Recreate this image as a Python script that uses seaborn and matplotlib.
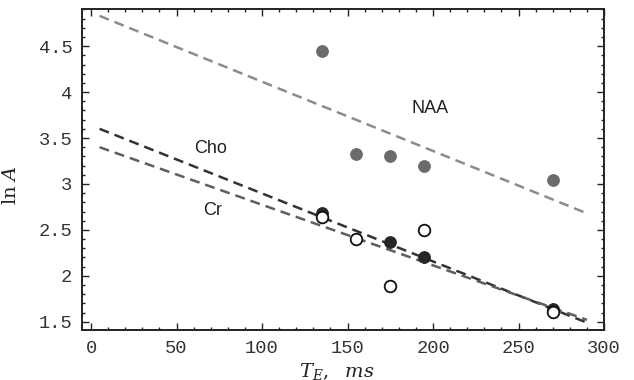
import matplotlib
matplotlib.use("Agg")
import matplotlib.pyplot as plt
import matplotlib.ticker as mticker
import seaborn as sns

# ── data ────────────────────────────────────────────────────────────────────
te_naa = [135, 155, 175, 195, 270]
lna_naa = [4.45, 3.33, 3.30, 3.19, 3.04]

te_cho = [135, 175, 195, 270]
lna_cho = [2.68, 2.37, 2.20, 1.64]

te_cr = [135, 155, 175, 195, 270]
lna_cr = [2.64, 2.40, 1.89, 2.50, 1.61]

# fitted lines (end points)
te_fit = [5, 290]
fit_naa = [4.83, 2.68]
fit_cho = [3.60, 1.49]
fit_cr = [3.40, 1.52]

x_ticks = [0, 50, 100, 150, 200, 250, 300]
y_ticks = [1.5, 2, 2.5, 3, 3.5, 4, 4.5]

sns.set_style("ticks")
plt.rcParams["mathtext.fontset"] = "dejavuserif"

fig = plt.figure(figsize=(6.34, 3.8), dpi=100)
ax = fig.add_axes([0.1293, 0.1316, 0.8234, 0.846])

dash = (4.0, 2.4)
sns.lineplot(x=te_fit, y=fit_naa, ax=ax, color="#8c8c8c", lw=1.8)
sns.lineplot(x=te_fit, y=fit_cho, ax=ax, color="#333333", lw=1.8)
sns.lineplot(x=te_fit, y=fit_cr, ax=ax, color="#5e5e5e", lw=1.8)
for ln in ax.lines:
    ln.set_dashes(dash)

sns.scatterplot(x=te_naa, y=lna_naa, ax=ax, color="#6b6b6b", s=70,
                edgecolor="#6b6b6b", linewidth=0.8, zorder=5)
sns.scatterplot(x=te_cho, y=lna_cho, ax=ax, color="#262626", s=70,
                edgecolor="#262626", linewidth=0.8, zorder=5)
sns.scatterplot(x=te_cr, y=lna_cr, ax=ax, color="white", s=70,
                edgecolor="#111111", linewidth=1.3, zorder=6)

# curve labels
lab_font = dict(family="Liberation Sans", fontsize=13, color="#222222",
                ha="center", va="center")
ax.text(198, 3.82, "NAA", **lab_font)
ax.text(70, 3.39, "Cho", **lab_font)
ax.text(71, 2.71, "Cr", **lab_font)

ax.set_xlim(-5.3, 300)
ax.set_ylim(1.41, 4.91)

ax.set_xticks(x_ticks)
ax.set_yticks(y_ticks)
ax.xaxis.set_minor_locator(mticker.MultipleLocator(10))
ax.yaxis.set_minor_locator(mticker.MultipleLocator(0.1))
ax.yaxis.set_major_formatter(mticker.FuncFormatter(lambda v, p: f"{v:g}"))

ax.tick_params(which="both", direction="in", top=True, right=True,
               color="#222222", width=1.0)
ax.tick_params(which="major", length=5, pad=7)
ax.tick_params(which="minor", length=2.5)
for lab in ax.get_xticklabels() + ax.get_yticklabels():
    lab.set_family("Liberation Mono")
    lab.set_fontsize(13.5)
    lab.set_color("#333333")

for sp in ax.spines.values():
    sp.set_visible(True)
    sp.set_linewidth(1.4)
    sp.set_color("#222222")

ax.set_ylabel(r"$\mathrm{ln}\ A$", fontsize=14, color="#222222")
ax.yaxis.set_label_coords(-0.119, 0.451)
ax.set_xlabel(r"$T_E,\ \ ms$", fontsize=14, color="#222222")
ax.xaxis.set_label_coords(0.489, -0.095)

fig.savefig("out.png", dpi=100)
